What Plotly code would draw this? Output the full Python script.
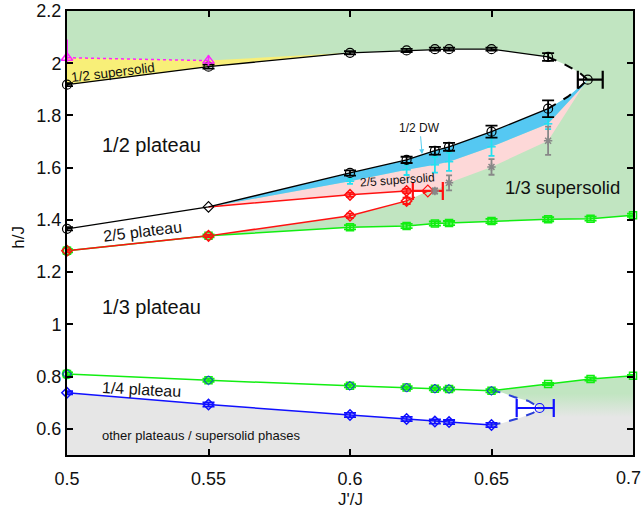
import plotly.graph_objects as go

# ---------------- data ----------------
jr_top = [0.5, 0.55, 0.6, 0.62, 0.63, 0.635, 0.65, 0.67]
half_top_h = [1.918, 1.987, 2.040, 2.049, 2.054, 2.054, 2.054, 2.024]
half_top_err = [0.006, 0.008, 0.006, 0.006, 0.006, 0.006, 0.006, 0.015]

half_bot_h = [1.366, 1.450, 1.580, 1.630, 1.665, 1.680, 1.738, 1.826]
half_bot_err = [0.006, 0.006, 0.010, 0.012, 0.015, 0.015, 0.023, 0.032]

half_end_x = [0.684]
half_end_h = [1.937]
half_end_xplus = [0.0053]
half_end_xminus = [0.0035]

half_dash_top_x = [0.67, 0.676, 0.681, 0.684]
half_dash_top_h = [2.024, 1.995, 1.965, 1.937]
half_dash_bot_x = [0.67, 0.677, 0.6815, 0.684]
half_dash_bot_h = [1.826, 1.872, 1.912, 1.937]

ss_tip_x = [0.6825]
ss_tip_h = [1.915]

dw_x = [0.6, 0.62, 0.63, 0.635, 0.65, 0.67]
dw_h = [1.548, 1.592, 1.611, 1.623, 1.680, 1.768]
dw_err = [0.010, 0.020, 0.030, 0.035, 0.035, 0.020]

ss25_x = [0.63, 0.635, 0.65, 0.67]
ss25_h = [1.511, 1.542, 1.603, 1.703]
ss25_err = [0.010, 0.029, 0.030, 0.054]

red_up_x = [0.6, 0.62]
red_up_h = [1.496, 1.511]
red_up_err = [0.008, 0.008]

red_low_x = [0.5, 0.55, 0.6, 0.62]
red_low_h = [1.282, 1.339, 1.416, 1.473]
red_low_err = [0.005, 0.005, 0.008, 0.012]

red_end_x = [0.6275]
red_end_h = [1.511]
red_end_xerr = [0.0053]

g_x = [0.5, 0.55, 0.6, 0.62, 0.63, 0.635, 0.65, 0.67, 0.685, 0.7]
g_top_h = [1.282, 1.339, 1.372, 1.377, 1.386, 1.388, 1.396, 1.403, 1.405, 1.418]
g_top_err = [0.006, 0.006, 0.008, 0.008, 0.008, 0.008, 0.008, 0.008, 0.008, 0.006]
g_bot_h = [0.810, 0.786, 0.765, 0.758, 0.754, 0.753, 0.746, 0.772, 0.791, 0.803]
g_bot_err = [0.006, 0.006, 0.006, 0.006, 0.006, 0.006, 0.006, 0.004, 0.006, 0.004]

q_x = [0.5, 0.55, 0.6, 0.62, 0.63, 0.635, 0.65]
q_h = [0.738, 0.693, 0.653, 0.638, 0.628, 0.626, 0.615]
q_err = [0.006, 0.008, 0.008, 0.008, 0.008, 0.008, 0.008]

q_end_x = [0.667]
q_end_h = [0.680]
q_end_xplus = [0.005]
q_end_xminus = [0.0081]

q_dash_top_x = [0.65, 0.654, 0.658, 0.663, 0.666, 0.667]
q_dash_top_h = [0.746, 0.738, 0.722, 0.707, 0.688, 0.680]
q_dash_bot_x = [0.65, 0.654, 0.66, 0.6647, 0.667]
q_dash_bot_h = [0.615, 0.623, 0.642, 0.661, 0.680]

m_x = [0.5, 0.55]
m_h = [2.021, 2.010]
m_err_plus = [0.07, 0.02]
m_err_minus = [0.02, 0.02]

X_MIN, X_MAX, H_MIN, H_MAX = 0.5, 0.7, 0.5, 2.2
x_ticks = [0.5, 0.55, 0.6, 0.65, 0.7]
x_ticktext = ["0.5", "0.55", "0.6", "0.65", "0.7"]
y_ticks = [0.6, 0.8, 1.0, 1.2, 1.4, 1.6, 1.8, 2.0, 2.2]
y_ticktext = ["0.6", "0.8", "1", "1.2", "1.4", "1.6", "1.8", "2", "2.2"]

# ---------------- colours ----------------
C_GREEN_FILL = "#c1e5c1"
C_YELLOW = "#f8ef78"
C_BLUE_FILL = "#55c8f2"
C_PINK = "#fdd8d8"
C_GRAY_FILL = "#e6e6e6"
C_LIME = "#11ee11"
C_RED = "#ff1111"
C_BLUE = "#1010ff"
C_CYAN = "#22e0f0"
C_GRAYPT = "#888888"
C_MAG = "#ff22ff"

fig = go.Figure()


def poly(xs, hs, color, **kw):
    fig.add_trace(go.Scatter(x=xs, y=hs, mode="lines", fill="toself", fillcolor=color,
                             line=dict(width=0, color=color), hoverinfo="skip",
                             showlegend=False, **kw))


# ---- filled regions ----
poly(g_x + [X_MAX, X_MIN], g_top_h + [H_MAX, H_MAX], C_GREEN_FILL)
poly(jr_top + half_dash_top_x[1:] + half_dash_bot_x[::-1][1:] + jr_top[::-1],
     half_top_h + half_dash_top_h[1:] + half_dash_bot_h[::-1][1:] + half_bot_h[::-1], "white")
poly(m_x + [jr_top[2]] + jr_top[2::-1], m_h + [half_top_h[2]] + half_top_h[2::-1], C_YELLOW)
poly([jr_top[1]] + dw_x + ss_tip_x + ss25_x[::-1] + red_end_x + red_up_x[::-1],
     [half_bot_h[1]] + dw_h + ss_tip_h + ss25_h[::-1] + red_end_h + red_up_h[::-1], C_PINK)
poly(jr_top[1:] + half_dash_bot_x[1:] + ss_tip_x + dw_x[::-1],
     half_bot_h[1:] + half_dash_bot_h[1:] + ss_tip_h + dw_h[::-1], C_BLUE_FILL)
poly(jr_top[:2] + red_up_x + red_end_x + red_low_x[::-1],
     half_bot_h[:2] + red_up_h + red_end_h + red_low_h[::-1], "white")
poly([X_MIN] + q_x + q_dash_bot_x[1:] + [X_MAX, X_MAX, X_MIN],
     [H_MIN] + q_h + q_dash_bot_h[1:] + [q_end_h[0], H_MIN, H_MIN], C_GRAY_FILL)
fig.add_trace(go.Scatter(
    x=q_end_x + q_end_x + [X_MAX] + g_x[::-1][:4] + q_dash_top_x[1:],
    y=q_end_h + [0.62, 0.62] + g_bot_h[::-1][:4] + q_dash_top_h[1:],
    mode="lines", fill="toself", line=dict(width=0), hoverinfo="skip", showlegend=False,
    fillgradient=dict(type="vertical", colorscale=[[0, C_GRAY_FILL], [1, C_GREEN_FILL]],
                      start=0.645, stop=0.735)))


# ---- lines & points ----
def line(xs, hs, color, dash="solid", width=1.5):
    fig.add_trace(go.Scatter(x=xs, y=hs, mode="lines", line=dict(color=color, width=width, dash=dash),
                             hoverinfo="skip", showlegend=False, cliponaxis=False))


def pts(xs, hs, color, symbol, size=8, err=None, errp=None, errm=None, xerrp=None, xerrm=None,
        lw=1.5, ecolor=None, ewidth=4):
    kw = {}
    if err is not None or errp is not None:
        kw["error_y"] = dict(type="data", array=errp if errp is not None else err,
                             arrayminus=errm if errm is not None else (err if err is not None else errp),
                             symmetric=False, color=ecolor or color, thickness=1.8, width=ewidth)
    if xerrp is not None:
        kw["error_x"] = dict(type="data", array=xerrp, arrayminus=xerrm, symmetric=False,
                             color=ecolor or color, thickness=2.2, width=9)
    fig.add_trace(go.Scatter(x=xs, y=hs, mode="markers",
                             marker=dict(symbol=symbol, size=size, color=color,
                                         line=dict(color=color, width=lw)),
                             hoverinfo="skip", showlegend=False, cliponaxis=False, **kw))


line(g_x, g_top_h, C_LIME)
line(g_x, g_bot_h, C_LIME)
line(red_low_x, red_low_h, C_RED)
line(jr_top[1:2] + red_up_x, half_bot_h[1:2] + red_up_h, C_RED)
line(red_up_x[-1:] + red_end_x, red_up_h[-1:] + red_end_h, C_RED, dash="dash")
line(red_low_x[-1:] + red_end_x, red_low_h[-1:] + red_end_h, C_RED, dash="dash")
line(q_x, q_h, C_BLUE)
line(q_dash_top_x, q_dash_top_h, "#2a3fd8", dash="dash", width=2)
line(q_dash_bot_x, q_dash_bot_h, "#2a3fd8", dash="dash", width=2)
line(jr_top, half_top_h, "black", width=1.3)
line(jr_top, half_bot_h, "black", width=1.3)
line(half_dash_top_x, half_dash_top_h, "black", dash="dash", width=2)
line(half_dash_bot_x, half_dash_bot_h, "black", dash="dash", width=2)
line(m_x, m_h, C_MAG, dash="dot", width=1.5)

pts(g_x, g_top_h, C_LIME, "square-open", size=7, err=g_top_err, ewidth=6)
pts(g_x, g_bot_h, C_LIME, "square-open", size=7, err=g_bot_err, ewidth=6)
pts(g_x[:1], g_bot_h[:1], C_LIME, "circle-open", size=9)
pts(q_x, g_bot_h[:len(q_x)], C_BLUE, "diamond-open", size=7, lw=1)
pts(q_x, q_h, C_BLUE, "diamond-open", size=8, err=q_err, ewidth=6)
pts(q_end_x, q_end_h, C_BLUE, "circle-open", size=9, xerrp=q_end_xplus, xerrm=q_end_xminus, lw=1.2)
pts(red_low_x[:1], red_low_h[:1], C_LIME, "circle-open", size=9)
pts(red_low_x, red_low_h, C_RED, "diamond-open", size=8, err=red_low_err)
pts(red_up_x, red_up_h, C_RED, "diamond-open", size=8, err=red_up_err)
pts(red_end_x, red_end_h, C_RED, "diamond-open", size=9, xerrp=red_end_xerr, xerrm=red_end_xerr, lw=1.2)
pts(dw_x, dw_h, C_CYAN, "line-ew", size=6, err=dw_err, ewidth=3)
pts(ss25_x, ss25_h, C_GRAYPT, "asterisk-open", size=7, err=ss25_err, ewidth=3)
pts(jr_top, half_top_h, "black", "circle-open", size=9, err=half_top_err, ewidth=6, lw=1.2)
pts(jr_top[:1] + jr_top[2:], half_bot_h[:1] + half_bot_h[2:], "black", "circle-open", size=9,
    err=half_bot_err[:1] + half_bot_err[2:], ewidth=6, lw=1.2)
pts(jr_top[1:2], half_bot_h[1:2], "black", "diamond-open", size=8, lw=1.2)
pts(half_end_x, half_end_h, "black", "circle-open", size=9, xerrp=half_end_xplus,
    xerrm=half_end_xminus, lw=1.2)
pts(m_x, m_h, C_MAG, "triangle-up-open", size=10, errp=m_err_plus, errm=m_err_minus, ewidth=0)

# ---- text ----
FONT = "Liberation Sans, Arial, Helvetica, sans-serif"
TXT = "#111111"


def label(x, h, text, size, angle=0, color=TXT):
    fig.add_annotation(x=x, y=h, text=text, showarrow=False, textangle=angle, xanchor="left",
                       font=dict(family=FONT, size=size, color=color), xref="x", yref="y")


label(0.5003, 1.965, "1/2 supersolid", 13.5, -7)
label(0.5115, 1.688, "1/2 plateau", 20)
label(0.5115, 1.354, "2/5 plateau", 16, -7)
label(0.6025, 1.552, "2/5 supersolid", 12, -4)
label(0.6540, 1.523, "1/3 supersolid", 18.5)
label(0.5115, 1.067, "1/3 plateau", 20)
label(0.5115, 0.749, "1/4 plateau", 16, 3)
label(0.5115, 0.573, "other plateaus / supersolid phases", 13)

fig.add_annotation(x=0.6255, y=1.648, ax=0.6247, ay=1.753, axref="x", ayref="y",
                   text="1/2 DW", showarrow=True, arrowhead=2, arrowsize=1, arrowwidth=1,
                   arrowcolor="#55ccee", standoff=1,
                   font=dict(family=FONT, size=12, color=TXT))

# last x tick label kept inside the window edge
fig.add_annotation(x=1.0177, y=-0.052, xref="paper", yref="paper", text=x_ticktext[-1],
                   showarrow=False, xanchor="right", yanchor="middle",
                   font=dict(family=FONT, size=18, color=TXT))

fig.add_annotation(x=0.5, y=-0.1, xref="paper", yref="paper", text="J'/J", showarrow=False,
                   font=dict(family=FONT, size=17, color=TXT), yanchor="middle")
fig.add_annotation(x=-0.086, y=0.49, xref="paper", yref="paper", text="h/J", showarrow=False,
                   textangle=-90, font=dict(family=FONT, size=17, color=TXT), xanchor="center")

axis_common = dict(showgrid=False, zeroline=False, showline=True, linecolor="black", linewidth=2,
                   mirror="ticks", ticks="inside", ticklen=6, tickwidth=2, tickcolor="black",
                   automargin=False, ticklabeloverflow="allow",
                   tickfont=dict(family=FONT, size=18, color=TXT))
fig.update_xaxes(range=[X_MIN, X_MAX], tickvals=x_ticks,
                 ticktext=x_ticktext[:-1] + [""], ticklabelstandoff=6, **axis_common)
fig.update_yaxes(range=[H_MIN, H_MAX], tickvals=y_ticks, ticktext=y_ticktext, **axis_common)

fig.update_layout(width=644, height=508, margin=dict(l=67, r=11, t=11, b=53, autoexpand=False),
                  plot_bgcolor="white", paper_bgcolor="white", showlegend=False,
                  font=dict(family=FONT))

fig.write_html("out.html", config={"displayModeBar": False, "staticPlot": True},
               post_script="document.body.style.margin='0';document.body.style.overflow='hidden';")
